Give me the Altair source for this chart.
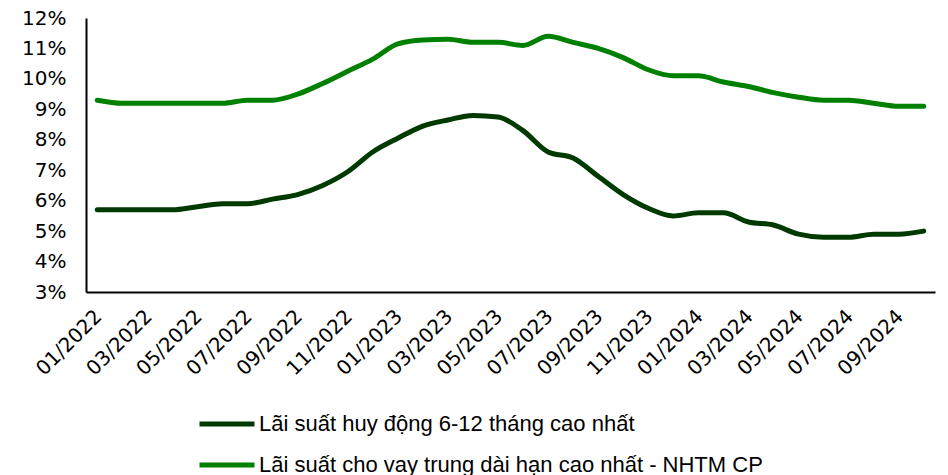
import altair as alt
import pandas as pd

months = [
    "01/2022", "02/2022", "03/2022", "04/2022", "05/2022", "06/2022",
    "07/2022", "08/2022", "09/2022", "10/2022", "11/2022", "12/2022",
    "01/2023", "02/2023", "03/2023", "04/2023", "05/2023", "06/2023",
    "07/2023", "08/2023", "09/2023", "10/2023", "11/2023", "12/2023",
    "01/2024", "02/2024", "03/2024", "04/2024", "05/2024", "06/2024",
    "07/2024", "08/2024", "09/2024", "10/2024",
]
huy_dong = [5.7, 5.7, 5.7, 5.7, 5.8, 5.9, 5.9, 6.05, 6.2, 6.5, 6.95, 7.6,
            8.05, 8.45, 8.65, 8.8, 8.75, 8.3, 7.6, 7.4, 6.8, 6.2, 5.75, 5.5,
            5.6, 5.6, 5.3, 5.2, 4.9, 4.8, 4.8, 4.9, 4.9, 5.0]
cho_vay = [9.3, 9.2, 9.2, 9.2, 9.2, 9.2, 9.3, 9.3, 9.5, 9.85, 10.25, 10.65,
           11.15, 11.28, 11.3, 11.2, 11.2, 11.1, 11.4, 11.2, 11.0, 10.7, 10.3, 10.1,
           10.1, 9.9, 9.75, 9.55, 9.4, 9.3, 9.3, 9.2, 9.1, 9.1]
series_names = ["Lãi suất huy động 6-12 tháng cao nhất",
                "Lãi suất cho vay trung dài hạn cao nhất - NHTM CP"]
colors = ["#003a00", "#008000"]
y_ticks = [3, 4, 5, 6, 7, 8, 9, 10, 11, 12]
x_labels = months[::2]

rows = []
for m, a, b in zip(months, huy_dong, cho_vay):
    rows.append({"month": m, "series": series_names[0], "value": a})
    rows.append({"month": m, "series": series_names[1], "value": b})
df = pd.DataFrame(rows)

AXFONT = "DejaVu Sans"
LGFONT = "Liberation Sans"

chart = alt.Chart(df).mark_line(
    strokeWidth=5, interpolate="monotone", strokeCap="round", strokeJoin="round"
).encode(
    x=alt.X("month:O", sort=months,
            scale=alt.Scale(type="point", padding=0.45),
            axis=alt.Axis(values=x_labels, labelAngle=-45, ticks=False, labelPadding=14,
                          labelOffset=-6,
                          domainColor="black", domainWidth=2, labelFont=AXFONT,
                          labelFontSize=20, labelColor="black", title=None, grid=False)),
    y=alt.Y("value:Q",
            scale=alt.Scale(domain=[3, 12], nice=False, zero=False),
            axis=alt.Axis(values=y_ticks, labelExpr="datum.value + '%'", ticks=False,
                          labelPadding=20, domainColor="black", domainWidth=2,
                          labelFont=AXFONT, labelFontSize=20, labelColor="black",
                          title=None, grid=False)),
    color=alt.Color("series:N", sort=series_names,
                    scale=alt.Scale(domain=series_names, range=colors),
                    legend=alt.Legend(orient="none", legendX=111, legendY=376, title=None,
                                      symbolType="stroke", symbolSize=3025,
                                      symbolStrokeWidth=5, labelFontSize=22,
                                      labelFont=LGFONT, labelColor="black",
                                      rowPadding=-17, padding=0, labelOffset=2,
                                      labelLimit=0)),
).properties(
    width=849, height=274,
    autosize=alt.AutoSizeParams(type="none"),
    padding={"left": 78, "top": 10, "right": 5, "bottom": 183},
).configure_view(strokeWidth=0)

chart.save("out.html", embed_options={"renderer": "svg", "actions": False})
